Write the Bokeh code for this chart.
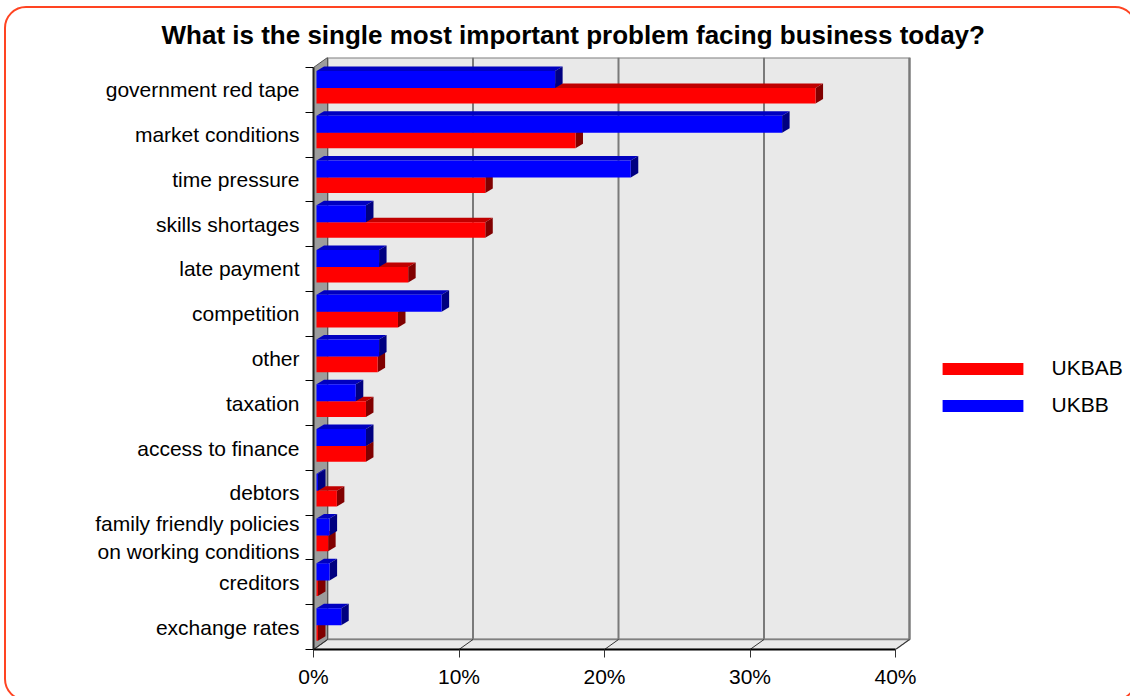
from bokeh.plotting import figure
from bokeh.models import (Range1d, FixedTicker, PrintfTickFormatter, Legend,
                          LegendItem, ColumnDataSource)
from bokeh.embed import file_html
from bokeh.resources import INLINE

# ---------------- data ----------------
title_text = "What is the single most important problem facing business today?"
categories = [
    "government red tape",
    "market conditions",
    "time pressure",
    "skills shortages",
    "late payment",
    "competition",
    "other",
    "taxation",
    "access to finance",
    "debtors",
    "family friendly policies\non working conditions",
    "creditors",
    "exchange rates",
]
series_names = ["UKBAB", "UKBB"]
ukbab = [34.3, 17.8, 11.6, 11.6, 6.3, 5.6, 4.2, 3.4, 3.4, 1.4, 0.8, 0.1, 0.1]
ukbb = [16.4, 32.0, 21.6, 3.4, 4.3, 8.6, 4.3, 2.7, 3.4, 0.1, 0.9, 0.9, 1.7]
x_ticks = [0, 10, 20, 30, 40]

# ---------------- geometry (pixels) ----------------
W, H = 1130, 696
FL, FT, FB = 313, 57, 649                    # frame edges (frame runs to right edge)
X_MAX = 40
n = len(categories)
PX_X = (895 - FL) / X_MAX                    # px per percent
PX_Y = (FB - 67) / n                         # px per category
DX_WALL = 14 / PX_X
DY_WALL = 10 / PX_Y
START = 3 / PX_X
BAR_DX = 7.5 / PX_X
BAR_DY = 4.5 / PX_Y

FONT = "Liberation Sans"

border_css = """
:host { position: relative; overflow: hidden; }
:host::after {
  content: "";
  position: absolute;
  left: 4px; top: 6px; right: -7px; bottom: -5px;
  border: 2px solid #FF4422;
  border-radius: 22px;
  pointer-events: none;
  z-index: 100;
}
"""

p = figure(width=W, height=H, output_backend="svg", toolbar_location=None,
           x_range=Range1d(0, (W - FL) / PX_X), y_range=Range1d(0, n + DY_WALL),
           min_border_left=FL, min_border_right=0,
           min_border_top=FT, min_border_bottom=H - FB,
           stylesheets=[border_css])
p.outline_line_color = None
p.grid.visible = False
p.background_fill_color = "white"
p.border_fill_color = "white"

# ---- title ----
p.title.text = title_text
p.title.align = "left"
p.title.offset = 161 - FL
p.title.standoff = 16
p.title.text_font = FONT
p.title.text_font_size = "26px"
p.title.text_font_style = "bold"
p.title.text_color = "black"

# ---- axes ----
xa = p.xaxis[0]
xa.ticker = FixedTicker(ticks=x_ticks, minor_ticks=[])
xa.formatter = PrintfTickFormatter(format="%d%%")
xa.bounds = (0, X_MAX)
xa.axis_line_color = "black"
xa.axis_line_width = 2
xa.major_tick_out = 8
xa.major_tick_in = 0
xa.major_tick_line_color = "#333333"
xa.minor_tick_line_color = None
xa.major_label_text_font = FONT
xa.major_label_text_font_size = "21px"
xa.major_label_text_color = "black"
xa.major_label_standoff = 7

centers = [n - i - 0.5 for i in range(n)]
ya = p.yaxis[0]
ya.ticker = FixedTicker(ticks=centers, minor_ticks=list(range(n + 1)))
ya.major_label_overrides = {c: lab for c, lab in zip(centers, categories)}
ya.bounds = (0, n)
ya.axis_line_color = "#222222"
ya.axis_line_width = 2
ya.major_tick_line_color = None
ya.major_tick_out = 8
ya.major_tick_in = 0
ya.minor_tick_out = 8
ya.minor_tick_in = 0
ya.minor_tick_line_color = "black"
ya.minor_tick_line_width = 1
ya.major_label_text_font = FONT
ya.major_label_text_font_size = "21px"
ya.major_label_text_color = "black"
ya.major_label_standoff = 6

# ---- 3D walls ----
p.quad(left=DX_WALL, right=X_MAX + DX_WALL, bottom=DY_WALL, top=n + DY_WALL,
       fill_color="#E9E9E9", line_color="#808080", line_width=2)
p.patch([0, X_MAX, X_MAX + DX_WALL, DX_WALL], [0, 0, DY_WALL, DY_WALL],
        fill_color="#E9E9E9", line_color="#808080", line_width=1.5)
p.patch([0, 0, DX_WALL, DX_WALL], [0, n, n + DY_WALL, DY_WALL],
        fill_color="#9C9C9C", line_color="#555555", line_width=1)
gx = [t + DX_WALL for t in x_ticks[1:]]
p.segment(x0=gx, y0=[DY_WALL] * len(gx), x1=gx, y1=[n + DY_WALL] * len(gx),
          line_color="#7A7A7A", line_width=2)
p.segment(x0=x_ticks, y0=[0] * len(x_ticks), x1=[t + DX_WALL for t in x_ticks],
          y1=[DY_WALL] * len(x_ticks), line_color="#333333", line_width=1)


# ---- 3D bars ----
def bar3d(values, off_top, off_bot, c_front, c_top, c_side):
    tops = [n - i - off_top for i in range(n)]
    bots = [n - i - off_bot for i in range(n)]
    lefts = [START] * n
    rights = [START + v for v in values]
    src = ColumnDataSource(dict(y=[(a + b) / 2 for a, b in zip(tops, bots)],
                                h=[a - b for a, b in zip(tops, bots)],
                                left=lefts, right=rights))
    top_xs = [[l, r, r + BAR_DX, l + BAR_DX] for l, r in zip(lefts, rights)]
    top_ys = [[t, t, t + BAR_DY, t + BAR_DY] for t in tops]
    side_xs = [[r, r + BAR_DX, r + BAR_DX, r] for r in rights]
    side_ys = [[b, b + BAR_DY, t + BAR_DY, t] for t, b in zip(tops, bots)]
    p.patches(top_xs, top_ys, fill_color=c_top, line_color=None)
    p.patches(side_xs, side_ys, fill_color=c_side, line_color=None)
    return p.hbar(y="y", height="h", left="left", right="right", source=src,
                  fill_color=c_front, line_color=None)


r_red = bar3d(ukbab, 0.456, 0.805, "#FF0000", "#C00000", "#800000")
r_blue = bar3d(ukbb, 0.076, 0.456, "#0000FF", "#0000C0", "#000080")

# ---- legend ----
legend = Legend(items=[LegendItem(label=series_names[0], renderers=[r_red]),
                       LegendItem(label=series_names[1], renderers=[r_blue])],
                location=(931.6 - FL, FB - 417),
                glyph_width=101, glyph_height=15, label_standoff=19,
                spacing=13, padding=0, margin=0,
                border_line_color=None, background_fill_alpha=0,
                label_text_font=FONT, label_text_font_size="21px",
                label_text_color="black")
p.add_layout(legend)

open("out.html", "w").write(file_html(p, INLINE))
